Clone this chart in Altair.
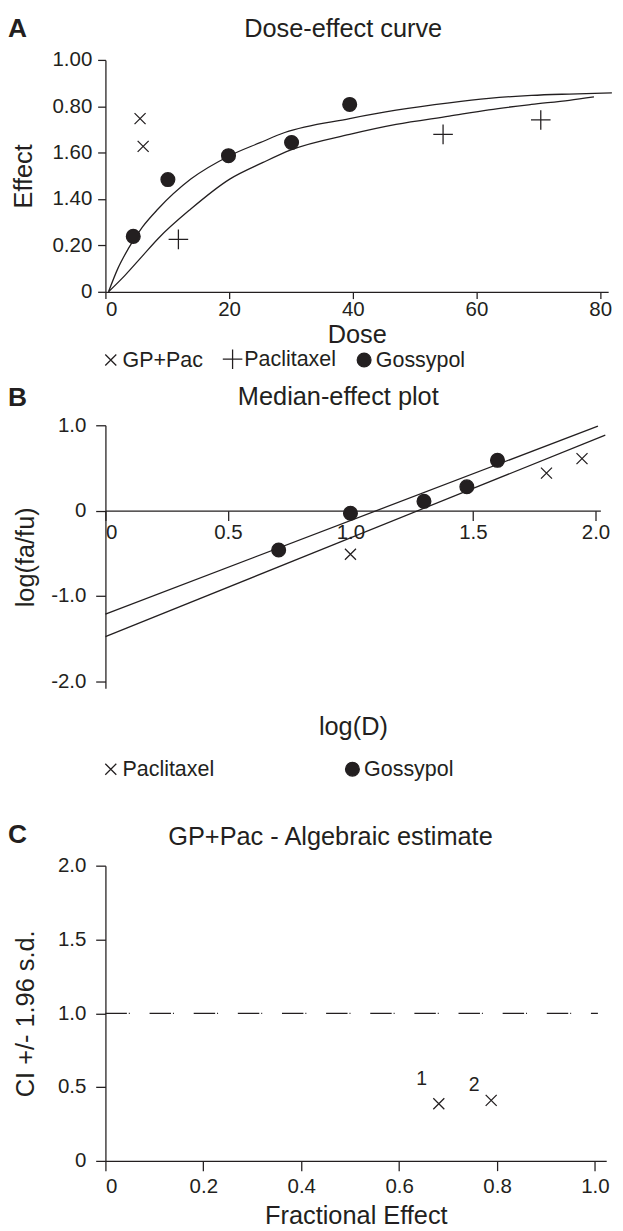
import altair as alt
import pandas as pd

FONT = "Liberation Sans"
INK = "#231f20"

panel_letters = ["A", "B", "C"]
panel_titles = ["Dose-effect curve", "Median-effect plot", "GP+Pac - Algebraic estimate"]

# ---------------- Panel A: dose-effect curve ----------------
a_series = ["GP+Pac", "Paclitaxel", "Gossypol"]
a_gppac_dose = [5.6, 6.1]
a_gppac_effect = [0.747, 0.627]
a_pac_dose = [11.8, 54.6, 70.4]
a_pac_effect = [0.226, 0.679, 0.741]
a_gos_dose = [4.5, 10.1, 19.9, 30.1, 39.5]
a_gos_effect = [0.239, 0.484, 0.587, 0.644, 0.808]
a_fit_gos_dose = [0.5, 2, 3.7, 6, 8.5, 13.8, 20.1, 25, 29, 39.5, 47, 55.6, 62, 68.9, 75, 81.9]
a_fit_gos_effect = [0.0, 0.10, 0.186, 0.28, 0.357, 0.486, 0.587, 0.643, 0.687, 0.747, 0.783,
                    0.815, 0.834, 0.847, 0.853, 0.858]
a_fit_pac_dose = [0.5, 3.2, 6, 8.5, 13.8, 20.1, 25.5, 30, 39.5, 47, 55.6, 62, 68.9, 75, 79]
a_fit_pac_effect = [0.0, 0.072, 0.155, 0.229, 0.357, 0.486, 0.558, 0.612, 0.679, 0.722, 0.758,
                    0.785, 0.808, 0.826, 0.841]
a_x_ticks = [0, 20, 40, 60, 80]
a_x_labels = ["0", "20", "40", "60", "80"]
a_y_ticks = [0, 0.2, 0.4, 0.6, 0.8, 1.0]
a_y_labels = ["0", "0.20", "1.40", "1.60", "0.80", "1.00"]

# ---------------- Panel B: median-effect plot ----------------
b_series = ["Paclitaxel", "Gossypol"]
b_pac_logd = [1.0, 1.80, 1.945]
b_pac_logratio = [-0.51, 0.44, 0.61]
b_gos_logd = [0.707, 1.0, 1.30, 1.475, 1.60]
b_gos_logratio = [-0.46, -0.03, 0.11, 0.28, 0.59]
b_fit_gos_logd = [0.0, 2.01]
b_fit_gos_logratio = [-1.21, 0.99]
b_fit_pac_logd = [0.0, 2.04]
b_fit_pac_logratio = [-1.475, 0.885]
b_x_ticks = [0, 0.5, 1.0, 1.5, 2.0]
b_x_labels = ["0", "0.5", "1.0", "1.5", "2.0"]
b_y_ticks = [-2.0, -1.0, 0, 1.0]
b_y_labels = ["-2.0", "-1.0", "0", "1.0"]

# ---------------- Panel C: algebraic estimate ----------------
c_fe = [0.681, 0.788]
c_ci = [0.387, 0.41]
c_point_labels = ["1", "2"]
c_label_fe = [0.646, 0.753]
c_label_ci = [0.557, 0.515]
c_ref_ci = [1.0]
c_ref_start = [0.0]
c_ref_end = [1.006]
c_x_ticks = [0, 0.2, 0.4, 0.6, 0.8, 1.0]
c_x_labels = ["0", "0.2", "0.4", "0.6", "0.8", "1.0"]
c_y_ticks = [0, 0.5, 1.0, 1.5, 2.0]
c_y_labels = ["0", "0.5", "1.0", "1.5", "2.0"]

CROSS = "M-0.8,-0.8L0.8,0.8M-0.8,0.8L0.8,-0.8"
PLUS = "M-1.42,0L1.42,0M0,-1.42L0,1.42"
SW = 1.3
TICK_FS = 21
TITLE_FS = 26
AXIS_TITLE_FS = 26
LEGEND_FS = 22
LETTER_FS = 27
NBSP = "\u00a0"


def label_expr(vals, labels):
    expr = "''"
    for v, lab in reversed(list(zip(vals, labels))):
        expr = f"abs(datum.value - ({v})) < 1e-6 ? '{lab}' : ({expr})"
    return expr


def sym_legend(col_pad, lx, ly):
    return alt.Legend(title=None, orient="none", legendX=lx, legendY=ly, direction="horizontal",
                      columnPadding=col_pad, labelOffset=1, symbolSize=200, symbolStrokeWidth=SW,
                      symbolStrokeColor=INK, labelFontSize=LEGEND_FS, labelFont=FONT, labelColor=INK,
                      padding=0, rowPadding=0)


def text_layer(text, x_px, y_px, size, weight, align):
    return alt.Chart(pd.DataFrame({"t": [text]})).mark_text(
        font=FONT, fontSize=size, fontWeight=weight, align=align, baseline="alphabetic", color=INK
    ).encode(x=alt.value(x_px), y=alt.value(y_px), text="t:N")


def symbol_encodings(field, domain, shapes, fills, legend):
    return dict(
        shape=alt.Shape(field, scale=alt.Scale(domain=domain, range=shapes), legend=legend),
        fill=alt.Fill(field, scale=alt.Scale(domain=domain, range=fills), legend=legend),
        stroke=alt.Stroke(field, scale=alt.Scale(domain=domain, range=[INK] * len(domain)), legend=legend),
    )


# ---------- Panel A ----------
A_W, A_H = 516, 238
a_pts = pd.DataFrame({
    "series": ["GP+Pac"] * len(a_gppac_dose) + ["Paclitaxel"] * len(a_pac_dose) + ["Gossypol"] * len(a_gos_dose),
    "dose": a_gppac_dose + a_pac_dose + a_gos_dose,
    "effect": a_gppac_effect + a_pac_effect + a_gos_effect,
})
a_fit = pd.DataFrame({
    "curve": ["gos"] * len(a_fit_gos_dose) + ["pac"] * len(a_fit_pac_dose),
    "dose": a_fit_gos_dose + a_fit_pac_dose,
    "effect": a_fit_gos_effect + a_fit_pac_effect,
})
a_x = alt.X("dose:Q", scale=alt.Scale(domain=[0, 81.3], nice=False, zero=False),
            axis=alt.Axis(values=a_x_ticks, labelExpr=label_expr(a_x_ticks, a_x_labels), title="Dose",
                          tickSize=7, labelPadding=0, titlePadding=3))
a_y = alt.Y("effect:Q", scale=alt.Scale(domain=[0, 1.0], nice=False, zero=False),
            axis=alt.Axis(values=a_y_ticks, labelExpr=label_expr(a_y_ticks, a_y_labels), title="Effect",
                          tickSize=8, labelPadding=6, titlePadding=16))
leg_a = sym_legend(17, -5.5, 296)
a_lines = alt.Chart(a_fit).mark_line(color=INK, strokeWidth=SW, interpolate="monotone").encode(
    x=a_x, y=a_y, detail="curve:N")
a_points = alt.Chart(a_pts).mark_point(size=200, strokeWidth=SW, opacity=1).encode(
    x=a_x, y=a_y,
    **symbol_encodings("series:N", a_series, [CROSS, PLUS, "circle"], ["transparent", "transparent", INK], leg_a),
)
panel_a = alt.layer(
    a_lines, a_points,
    text_layer(panel_letters[0], -100, -24, LETTER_FS, "bold", "left"),
    text_layer(panel_titles[0], A_W / 2 - 14, -24, TITLE_FS, "normal", "center"),
).properties(width=A_W, height=A_H)

# ---------- Panel B ----------
B_W, B_H = 508, 270
B_DOM = [-2.08, 1.0]
b_zero_from_bottom = B_H * (0 - B_DOM[0]) / (B_DOM[1] - B_DOM[0])
b_pts = pd.DataFrame({
    "drug": ["Paclitaxel"] * len(b_pac_logd) + ["Gossypol"] * len(b_gos_logd),
    "logd": b_pac_logd + b_gos_logd,
    "lr": b_pac_logratio + b_gos_logratio,
})
b_fit = pd.DataFrame({
    "line": ["gos"] * len(b_fit_gos_logd) + ["pac"] * len(b_fit_pac_logd),
    "logd": b_fit_gos_logd + b_fit_pac_logd,
    "lr": b_fit_gos_logratio + b_fit_pac_logratio,
})
b_x_display = [NBSP + b_x_labels[0]] + b_x_labels[1:]
b_x = alt.X("logd:Q", scale=alt.Scale(domain=[0, 2.02], nice=False, zero=False),
            axis=alt.Axis(values=b_x_ticks, labelExpr=label_expr(b_x_ticks, b_x_display), title="log(D)",
                          offset=-b_zero_from_bottom, titleY=222, titleBaseline="middle",
                          tickSize=10, labelPadding=2,
                          labelAlign={"condition": {"test": "datum.value == 0", "value": "left"},
                                      "value": "center"}))
b_y = alt.Y("lr:Q", scale=alt.Scale(domain=B_DOM, nice=False, zero=False),
            axis=alt.Axis(values=b_y_ticks, labelExpr=label_expr(b_y_ticks, b_y_labels), title="log(fa/fu)",
                          tickSize=10, labelPadding=10, titlePadding=13))
leg_b = sym_legend(130, -5.5, 342)
b_lines = alt.Chart(b_fit).mark_line(color=INK, strokeWidth=SW).encode(x=b_x, y=b_y, detail="line:N")
b_points = alt.Chart(b_pts).mark_point(size=200, strokeWidth=SW, opacity=1).encode(
    x=b_x, y=b_y,
    **symbol_encodings("drug:N", b_series, [CROSS, "circle"], ["transparent", INK], leg_b),
)
panel_b = alt.layer(
    b_lines, b_points,
    text_layer(panel_letters[1], -100, -20, LETTER_FS, "bold", "left"),
    text_layer(panel_titles[1], B_W / 2 - 15, -21, TITLE_FS, "normal", "center"),
).properties(width=B_W, height=B_H)

# ---------- Panel C ----------
C_W, C_H = 514, 303
C_XDOM = [0, 1.023]
C_YDOM = [0, 2.0]
c_pts = pd.DataFrame({"fe": c_fe, "ci": c_ci})
c_lab = pd.DataFrame({"fe": c_label_fe, "ci": c_label_ci, "t": c_point_labels})
c_ref = pd.DataFrame({"x0": c_ref_start, "x1": c_ref_end, "ci": c_ref_ci})
c_x = alt.X("fe:Q", scale=alt.Scale(domain=C_XDOM, nice=False, zero=False),
            axis=alt.Axis(values=c_x_ticks, labelExpr=label_expr(c_x_ticks, c_x_labels),
                          title="Fractional Effect", tickSize=10, labelPadding=5, titlePadding=7))
c_y = alt.Y("ci:Q", scale=alt.Scale(domain=C_YDOM, nice=False, zero=False),
            axis=alt.Axis(values=c_y_ticks, labelExpr=label_expr(c_y_ticks, c_y_labels),
                          title="CI +/- 1.96 s.d.", tickSize=10, labelPadding=10, titlePadding=20))
c_rule = alt.Chart(c_ref).mark_rule(color=INK, strokeWidth=SW, strokeDash=[22, 2, 1, 20.3]).encode(
    x=alt.X("x0:Q", scale=alt.Scale(domain=C_XDOM, nice=False, zero=False)), x2="x1:Q",
    y=alt.Y("ci:Q", scale=alt.Scale(domain=C_YDOM, nice=False, zero=False)))
c_points = alt.Chart(c_pts).mark_point(size=200, strokeWidth=SW, stroke=INK, opacity=1, shape=CROSS).encode(
    x=c_x, y=c_y)
c_text = alt.Chart(c_lab).mark_text(font=FONT, fontSize=20, color=INK, baseline="middle", align="center").encode(
    x=alt.X("fe:Q"), y=alt.Y("ci:Q"), text="t:N")
panel_c = alt.layer(
    c_points, c_rule, c_text,
    text_layer(panel_letters[2], -100, -23, LETTER_FS, "bold", "left"),
    text_layer(panel_titles[2], C_W / 2 - 26, -21, TITLE_FS, "normal", "center"),
).properties(width=C_W, height=C_H)

top_two = alt.vconcat(panel_a, panel_b, spacing=13).resolve_scale(
    shape="independent", fill="independent", stroke="independent")

chart = alt.vconcat(top_two, panel_c, spacing=43).resolve_scale(
    shape="independent", fill="independent", stroke="independent"
).properties(
    padding={"left": 0, "top": -9, "right": 0, "bottom": 0}
).configure_view(stroke=None).configure_axis(
    labelFont=FONT, labelFontSize=TICK_FS, labelColor=INK,
    titleFont=FONT, titleFontSize=AXIS_TITLE_FS, titleFontWeight="normal", titleColor=INK,
    domainColor=INK, domainWidth=SW, tickColor=INK, tickWidth=SW, grid=False,
)

chart.save("out.html", embed_options={"renderer": "svg", "actions": False})
